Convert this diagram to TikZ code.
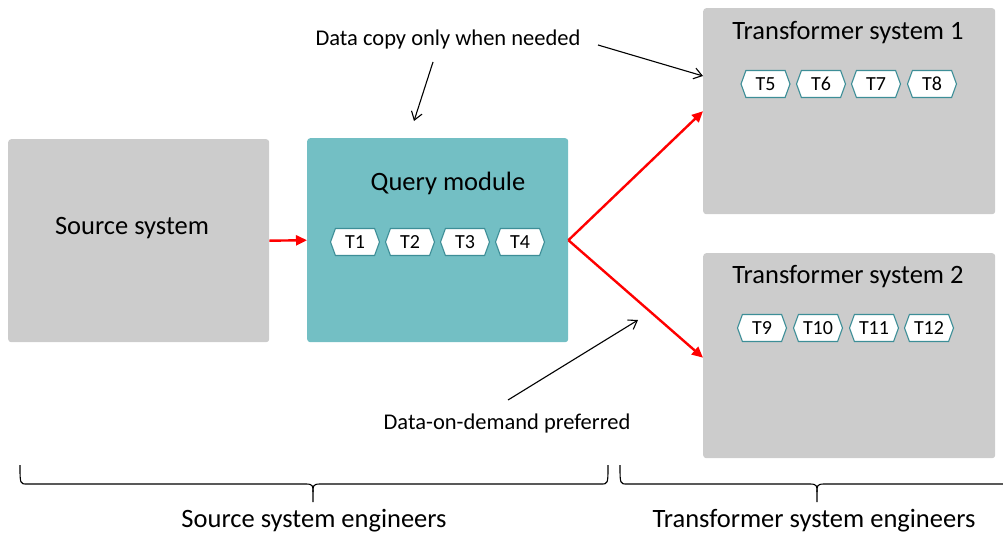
\documentclass[tikz,border=0pt]{standalone}
\usepackage{fontspec}
\setmainfont{Carlito}
\usetikzlibrary{arrows.meta,shapes.symbols}
\definecolor{boxgray}{HTML}{CCCCCC}
\definecolor{qteal}{HTML}{73BFC4}
\definecolor{tedge}{HTML}{3D8E97}
\tikzset{
  sysbox/.style={fill=boxgray, draw=none, rounded corners=3pt},
  qbox/.style={fill=qteal, draw=none, rounded corners=3pt},
  tbox/.style={signal, signal to=west and east, signal pointer angle=140,
    draw=tedge, fill=white, line width=1.1pt, minimum width=49pt, minimum height=27pt,
    inner sep=0pt, font=\fontsize{20}{23}\selectfont},
  bigtxt/.style={font=\fontsize{26.5}{30}\selectfont, inner sep=0pt},
  captxt/.style={font=\fontsize{22.5}{26}\selectfont, inner sep=0pt},
  bottxt/.style={font=\fontsize{26.5}{30}\selectfont, inner sep=0pt},
  redarrow/.style={draw=red, line width=2.4pt, -{Triangle[length=11pt,width=10pt]}},
  annarrow/.style={draw=black, line width=1.1pt, -{Straight Barb[length=8pt,width=11pt]}},
  bracepath/.style={draw=black, line width=1.1pt},
}
\begin{document}
\begin{tikzpicture}[x=1pt,y=-1pt]
\useasboundingbox (0,0) rectangle (1003,535);
\clip (0,0) rectangle (1003,535);
% boxes
\node[sysbox, minimum width=261pt, minimum height=203pt, anchor=north west] (src) at (8,139) {};
\node[qbox, minimum width=261pt, minimum height=204pt, anchor=north west] (qm) at (307,138) {};
\node[sysbox, minimum width=292pt, minimum height=206pt, anchor=north west] (tr1) at (703,8) {};
\node[sysbox, minimum width=292pt, minimum height=205pt, anchor=north west] (tr2) at (703,253) {};
% titles
\node[bigtxt] (srct) at (132,228) {Source system};
\node[bigtxt] (qmt) at (448,183) {Query module};
\node[bigtxt] (tr1t) at (848,33) {Transformer system 1};
\node[bigtxt] (tr2t) at (848,277) {Transformer system 2};
% T boxes
\node[tbox] (t1) at (355,242) {T1};
\node[tbox] (t2) at (410,242) {T2};
\node[tbox] (t3) at (465,242) {T3};
\node[tbox] (t4) at (520,242) {T4};
\node[tbox] (t5) at (765.5,84) {T5};
\node[tbox] (t6) at (821,84) {T6};
\node[tbox] (t7) at (876,84) {T7};
\node[tbox] (t8) at (932,84) {T8};
\node[tbox] (t9) at (762,328) {T9};
\node[tbox] (t10) at (818,328) {T10};
\node[tbox] (t11) at (874,328) {T11};
\node[tbox] (t12) at (929,328) {T12};
% red arrows
\draw[redarrow] (src.east) -- (qm.west);
\draw[redarrow] (qm.east) -- (tr1.west);
\draw[redarrow] (qm.east) -- ([yshift=-2pt]tr2.west);
% annotations
\node[captxt] (ann1) at (448,40) {Data copy only when needed};
\node[captxt] (ann2) at (507,423) {Data-on-demand preferred};
\coordinate (a1s) at (598,45);
\coordinate (a1e) at (703,76);
\coordinate (a2s) at (433,62);
\coordinate (a2e) at (414,121);
\coordinate (a3s) at (508,400);
\coordinate (a3e) at (638,320);
\draw[annarrow] (a1s) -- (a1e);
\draw[annarrow] (a2s) -- (a2e);
\draw[annarrow] (a3s) -- (a3e);
% braces
\draw[bracepath] (20,465) .. controls (20,484) and (20,484) .. (27,484) -- (306,484)
  .. controls (313,484) and (313,486) .. (313,492) -- (313,502);
\draw[bracepath] (313,492) .. controls (313,486) and (313,484) .. (320,484) -- (601,484)
  .. controls (608,484) and (608,484) .. (608,465);
\draw[bracepath] (620,465) .. controls (620,484) and (620,484) .. (627,484) -- (810,484)
  .. controls (817,484) and (817,486) .. (817,492) -- (817,502);
\draw[bracepath] (817,492) .. controls (817,486) and (817,484) .. (824,484) -- (1003,484)
  .. controls (1010,484) and (1010,484) .. (1010,465);
\node[bottxt] (lab1) at (314,521) {Source system engineers};
\node[bottxt] (lab2) at (814,521) {Transformer system engineers};
\end{tikzpicture}
\end{document}
